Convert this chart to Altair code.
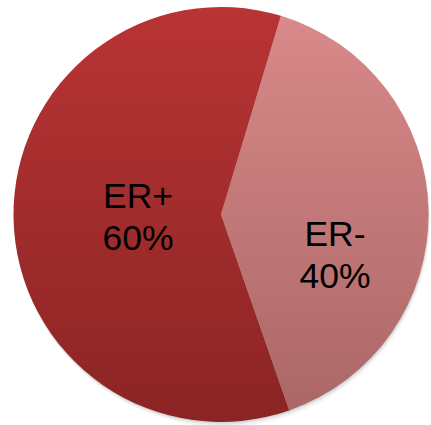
import altair as alt
import pandas as pd

categories = ["ER-", "ER+"]
values = [40, 60]
labels = ["ER-\n40%", "ER+\n60%"]
order = [0, 1]

df = pd.DataFrame({"cat": categories, "value": values, "label": labels, "ord": order})

start = 0.293
theta_scale = alt.Scale(domain=[0, 100], range=[start, start + 6.283185307])

base = alt.Chart(df).transform_stack(
    stack="value", groupby=[], as_=["v0", "v1"], sort=[alt.SortField("ord")]
).transform_calculate(mid="(datum.v0 + datum.v1) / 2")

def grad(top, bottom):
    return alt.LinearGradient(
        gradient="linear",
        stops=[alt.GradientStop(color=top, offset=0), alt.GradientStop(color=bottom, offset=1)],
        x1=0, x2=0, y1=0, y2=1,
    )

R = 207.5

def shadow(off, op):
    return base.mark_arc(
        radius=R, color="#888888", opacity=op, strokeWidth=0, yOffset=off, xOffset=off / 3
    ).encode(
        theta=alt.Theta("v0:Q", scale=theta_scale, stack=None),
        theta2="v1:Q",
    )

arc_neg = base.transform_filter("datum.cat == 'ER-'").mark_arc(
    radius=R, color=grad("#d98989", "#ab6767"), strokeWidth=0
).encode(
    theta=alt.Theta("v0:Q", scale=theta_scale, stack=None),
    theta2="v1:Q",
)

arc_pos = base.transform_filter("datum.cat == 'ER+'").mark_arc(
    radius=R, color=grad("#b93434", "#8b2424"), strokeWidth=0
).encode(
    theta=alt.Theta("v0:Q", scale=theta_scale, stack=None),
    theta2="v1:Q",
)

txt_style = dict(font="Liberation Sans", fontSize=35.5, color="black", lineBreak="\n",
                 lineHeight=42, align="center", baseline="middle")

text_neg = base.transform_filter("datum.cat == 'ER-'").mark_text(
    radius=114, dy=23, **txt_style
).encode(
    theta=alt.Theta("mid:Q", scale=theta_scale, stack=None),
    text="label:N",
)

text_pos = base.transform_filter("datum.cat == 'ER+'").mark_text(
    radius=83, dy=-19, **txt_style
).encode(
    theta=alt.Theta("mid:Q", scale=theta_scale, stack=None),
    text="label:N",
)

chart = alt.layer(
    shadow(5, 0.08), shadow(3, 0.12), shadow(1.5, 0.18),
    arc_neg, arc_pos, text_neg, text_pos
).properties(
    width=420, height=421,
    padding={"left": 11, "top": 4, "right": 0, "bottom": 0},
    autosize=alt.AutoSizeParams(type="none"),
).configure_view(strokeWidth=0).configure(background="white")

chart.save("out.html", embed_options={"renderer": "svg", "actions": False})
